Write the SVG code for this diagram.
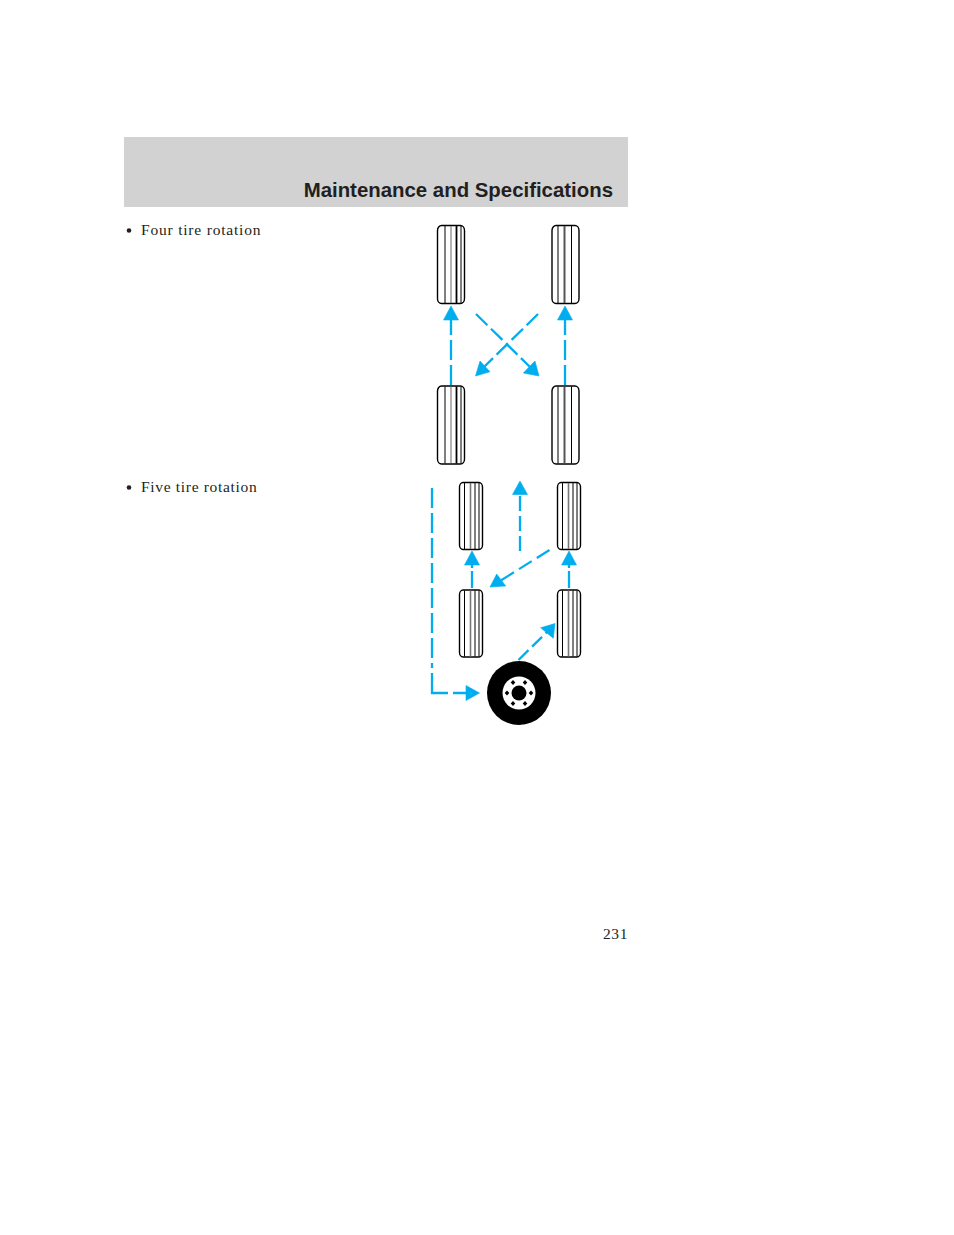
<svg xmlns="http://www.w3.org/2000/svg" width="954" height="1235" viewBox="0 0 954 1235">
<style>
.t{fill:none;stroke:#000;stroke-width:1.4}
.g{fill:none;stroke:#000;stroke-width:1}
.c{fill:none;stroke:#00aeef;stroke-width:2.3}
.a{fill:#00aeef;stroke:#00aeef;stroke-width:.6}
.b{font-family:"Liberation Serif",serif;font-size:15.5px;fill:#231f20;letter-spacing:.8px}
</style>
<defs>
<g id="big"><rect class="t" x="0.5" y="0.5" width="27" height="78" rx="4" ry="5"/><path class="g" d="M8 1V78M24 1V78"/><path d="M14 1V78" stroke="#666" stroke-width="1"/><path d="M19.5 1V78" stroke="#000" stroke-width="1.8"/></g>
<g id="bigr"><rect class="t" x="0.5" y="0.5" width="27" height="78" rx="4" ry="5"/><path class="g" d="M6.5 1V78M20 1V78"/><path d="M13 1V78" stroke="#555" stroke-width="2"/></g>
<g id="small"><rect class="t" x="0.5" y="0.5" width="23" height="67" rx="3.5" ry="4.500"/><path class="g" d="M5.5 1V67M16 1V67M20 1V67"/><path d="M11.5 1V67" stroke="#777" stroke-width="1.6"/></g>
</defs>
<rect id="header" x="124" y="137" width="504" height="70" fill="#d2d2d2"/>
<text x="613" y="197" text-anchor="end" font-family="'Liberation Sans',Arial,sans-serif" font-weight="bold" font-size="20.4px" fill="#231f20">Maintenance and Specifications</text>
<circle cx="129" cy="230.500" r="2.300" fill="#231f20"/>
<text class="b" x="141" y="235">Four tire rotation</text>
<circle cx="129" cy="487.500" r="2.300" fill="#231f20"/>
<text class="b" x="141" y="492" style="letter-spacing:.68px">Five tire rotation</text>
<text class="b" x="628" y="939" text-anchor="end" style="letter-spacing:.6px">231</text>
<g id="tire-fl"><use href="#big" x="437" y="225"/></g>
<g id="tire-fr"><use href="#bigr" x="551.500" y="225"/></g>
<g id="tire-rl"><use href="#big" x="437" y="385.500"/></g>
<g id="tire-rr"><use href="#bigr" x="551.500" y="385.500"/></g>
<g id="tire5-fl"><use href="#small" x="459" y="482"/></g>
<g id="tire5-fr"><use href="#small" x="557" y="482"/></g>
<g id="tire5-rl"><use href="#small" x="459" y="589.500"/></g>
<g id="tire5-rr"><use href="#small" x="557" y="589.500"/></g>
<g id="spare">
<circle cx="519" cy="693" r="32"/>
<circle cx="519" cy="693" r="16.500" fill="#fff"/>
<circle cx="519" cy="693" r="7.500"/>
<path d="M513 680l2.300 2.500-2.300 2.500-2.300-2.500zM525 680l2.300 2.500-2.300 2.500-2.300-2.500zM507 690.500l2.300 2.500-2.300 2.500-2.300-2.500zM531 690.500l2.300 2.500-2.300 2.500-2.300-2.500zM513 701l2.300 2.500-2.300 2.500-2.300-2.500zM525 701l2.300 2.500-2.300 2.500-2.300-2.500z"/>
</g>
<g id="connectors">
<path class="c" stroke-dasharray="20 5" d="M451 385V318"/><path class="a" d="M451 306l7.500 14h-15z"/>
<path class="c" stroke-dasharray="20 5" d="M565 385V318"/><path class="a" d="M565 306l7.500 14h-15z"/>
<path class="c" stroke-dasharray="16 5" d="M476 314L530 367"/><path class="a" d="M539 376l-15.700-3 11.700-12z"/>
<path class="c" stroke-dasharray="16 5" d="M538 314L484 367"/><path class="a" d="M475.500 376l14.500-4.300-10-10.700z"/>
<path class="c" stroke-dasharray="17 3" d="M472 588V564"/><path class="a" d="M472 551l7.500 14h-15z"/>
<path class="c" stroke-dasharray="17 3" d="M569 588V564"/><path class="a" d="M569 551l7.500 14h-15z"/>
<path class="c" stroke-dasharray="15 5" d="M520 551V493"/><path class="a" d="M520 481l7.500 13.500h-15z"/>
<path class="c" stroke-dasharray="15 6" d="M549.500 550L500 581"/><path class="a" d="M490 587l6.700-13 9 12z"/>
<path class="c" stroke-dasharray="14 5" d="M518.500 660L547 632"/><path class="a" d="M555 623.500l-14.300 4.300 12.600 10.500z"/>
<path class="c" stroke-dasharray="20 5" d="M432 488V668"/>
<path class="c" d="M432 673V693H448M453 693H468"/><path class="a" d="M479.500 693l-13.500 7.500v-15z"/>
</g>
</svg>
